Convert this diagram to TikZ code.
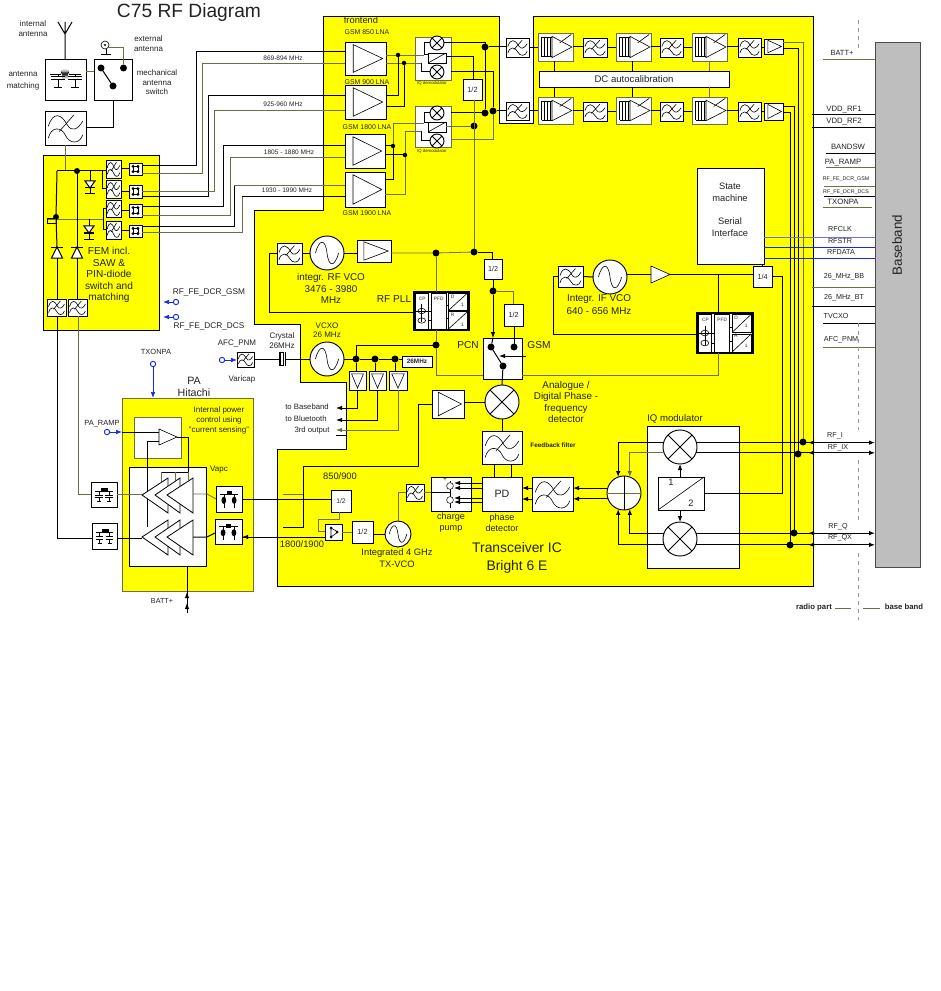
\documentclass[tikz,border=0pt]{standalone}
\usepackage{fontspec}
\setmainfont{Liberation Sans}
\usetikzlibrary{arrows.meta,calc,shapes.geometric}
\definecolor{yel}{RGB}{255,255,0}
\definecolor{bbgray}{RGB}{190,190,190}
\definecolor{oliv}{RGB}{110,110,70}
\definecolor{blu}{RGB}{20,40,235}
\definecolor{txtc}{RGB}{35,35,35}
\tikzset{
 blk/.style={draw=black,fill=white,rectangle,inner sep=0pt,outer sep=0pt,line width=.6pt},
 gblk/.style={draw=oliv,fill=white,rectangle,inner sep=0pt,outer sep=0pt,line width=.5pt},
 noblk/.style={rectangle,inner sep=0pt,outer sep=0pt},
 thk/.style={draw=black,fill=white,rectangle,inner sep=0pt,outer sep=0pt,line width=.8pt},
 bbst/.style={draw=black!70,fill=bbgray,rectangle,inner sep=0pt,outer sep=0pt,line width=.7pt},
 cirn/.style={draw=black,fill=white,circle,inner sep=0pt,outer sep=0pt,line width=.7pt},
 mydot/.style={draw=none,fill=black,circle,inner sep=0pt,outer sep=0pt},
 bluec/.style={draw=blu,fill=white,circle,inner sep=0pt,outer sep=0pt,line width=.7pt,minimum size=4pt},
 txt/.style={inner sep=0pt,outer sep=0pt,align=center,text=txtc},
 wk/.style={draw=black,line width=.75pt},
 wg/.style={draw=oliv,line width=.6pt},
 wb/.style={draw=blu,line width=.55pt},
 gl/.style={draw=black,line width=.45pt},
 ah/.style={-{Latex[length=4.5pt,width=3.4pt]}},
}
\newcommand{\nBx}[6][blk]{%
 \pgfmathsetlengthmacro{\mw}{(#5-#3)*0.75}\pgfmathsetlengthmacro{\mh}{(#6-#4)*0.75}%
 \node[#1,minimum width=\mw,minimum height=\mh] (#2) at ({(#3+#5)/2},{(#4+#6)/2}) {};}
\newcommand{\nLab}[7]{%
 \pgfmathsetlengthmacro{\mw}{(#4-#2)*0.75}\pgfmathsetlengthmacro{\mh}{(#5-#3)*0.75}%
 \node[blk,text=txtc,minimum width=\mw,minimum height=\mh,font=\fontsize{#6}{#6}\selectfont] (#1) at ({(#2+#4)/2},{(#3+#5)/2}) {#7};}
\newcommand{\nTx}[6]{\node[txt,font=\fontsize{#4}{#5}\selectfont] (#1) at (#2,#3) {#6};}
\newcommand{\nFilt}[5]{\nBx{#1}{#2}{#3}{#4}{#5}%
 \begin{scope}[shift={(#2,#3)},xscale={#4-#2},yscale={#5-#3}]
 \draw[gl] (.08,.45) .. controls (.2,.0) and (.4,.08) .. (.55,.42) .. controls (.65,.62) and (.8,.55) .. (.92,.3);
 \draw[gl] (.08,.8) .. controls (.15,.45) and (.4,.45) .. (.5,.72) .. controls (.6,.98) and (.85,.98) .. (.92,.7);
 \draw[gl] (.35,.6) -- (.7,.12);
 \end{scope}}
\newcommand{\nAmp}[5]{\nBx{#1}{#2}{#3}{#4}{#5}%
 \begin{scope}[shift={(#2,#3)},xscale={#4-#2},yscale={#5-#3}]
 \draw[gl] (.2,.08) -- (.2,.92) -- (.92,.5) -- cycle;
 \end{scope}}
\newcommand{\nBuf}[5]{\nBx{#1}{#2}{#3}{#4}{#5}%
 \begin{scope}[shift={(#2,#3)},xscale={#4-#2},yscale={#5-#3}]
 \draw[gl] (.15,.15) -- (.85,.15) -- (.5,.9) -- cycle;
 \end{scope}}
\newcommand{\nVga}[5]{\nBx[gblk]{#1}{#2}{#3}{#4}{#5}%
 \begin{scope}[shift={(#2,#3)},xscale={#4-#2},yscale={#5-#3}]
 \foreach \q in {.1,.18,.26,.34}{\draw[gl] (\q,.15) -- (\q,.85);}
 \draw[gl] (.1,.15) -- (.4,.15) (.1,.85) -- (.4,.85);
 \draw[gl] (.4,.12) -- (.4,.88) -- (.97,.5) -- cycle;
 \draw[gl] (.62,.35) -- (.95,.05);
 \end{scope}}
\newcommand{\nCir}[4]{\pgfmathsetlengthmacro{\mw}{2*#4*0.75}\node[cirn,minimum size=\mw] (#1) at (#2,#3) {};}
\newcommand{\nVco}[4]{\nCir{#1}{#2}{#3}{#4}%
 \begin{scope}[shift={(#2,#3)},scale={#4}]
 \draw[gl] (-.68,0) .. controls (-.45,-.85) and (-.1,-.85) .. (0,0) .. controls (.1,.85) and (.45,.85) .. (.68,0);
 \end{scope}}
\newcommand{\nMix}[4]{\nCir{#1}{#2}{#3}{#4}%
 \begin{scope}[shift={(#2,#3)},scale={#4}]
 \draw[gl,line width=.6pt] (-.707,-.707) -- (.707,.707) (-.707,.707) -- (.707,-.707);
 \end{scope}}
\newcommand{\nDot}[4]{\pgfmathsetlengthmacro{\mw}{#4*0.75}\node[mydot,minimum size=\mw] (#1) at (#2,#3) {};}
\newcommand{\nDiv}[5]{\nBx{#1}{#2}{#3}{#4}{#5}\draw[gl] (#1.south west) -- (#1.north east);}
\newcommand{\nBal}[5]{\nBx{#1}{#2}{#3}{#4}{#5}%
 \begin{scope}[shift={(#2,#3)},xscale={#4-#2},yscale={#5-#3}]
 \draw[gl] (.32,.28) rectangle (.68,.72);
 \fill (.32,.28) circle[radius=.13] (.68,.28) circle[radius=.13] (.32,.72) circle[radius=.13] (.68,.72) circle[radius=.13];
 \end{scope}}
\newcommand{\nMtl}[5]{\nBx{#1}{#2}{#3}{#4}{#5}%
 \begin{scope}[shift={(#2,#3)},xscale={#4-#2},yscale={#5-#3}]
 \fill (.38,.22) rectangle (.66,.36);
 \draw[gl] (.15,.36) -- (.85,.36);
 \draw[gl] (.3,.36) -- (.3,.52) (.7,.36) -- (.7,.52);
 \draw[gl] (.15,.52) -- (.45,.52) (.55,.52) -- (.85,.52) (.15,.62) -- (.45,.62) (.55,.62) -- (.85,.62);
 \draw[gl] (.3,.62) -- (.3,.78) (.7,.62) -- (.7,.78);
 \draw[gl] (.22,.78) -- (.38,.78) (.62,.78) -- (.78,.78);
 \end{scope}}
\newcommand{\nMtr}[5]{\nBx{#1}{#2}{#3}{#4}{#5}%
 \begin{scope}[shift={(#2,#3)},xscale={#4-#2},yscale={#5-#3}]
 \draw[gl] (.15,.3) -- (.85,.3);
 \fill (.42,.2) rectangle (.6,.34);
 \draw[gl] (.3,.3) -- (.3,.85) (.7,.3) -- (.7,.85);
 \fill (.3,.55) ellipse[x radius=.09,y radius=.14] (.7,.55) ellipse[x radius=.09,y radius=.14];
 \end{scope}}
\newcommand{\nPll}[5]{\nBx[thk]{#1}{#2}{#3}{#4}{#5}%
 \begin{scope}[shift={(#2,#3)},xscale={#4-#2},yscale={#5-#3}]
 \draw[gl] (.03,.03) rectangle (.26,.5) (.03,.5) rectangle (.26,.97);
 \draw[gl] (.14,.32) -- (.14,.8);
 \draw[gl] (.14,.5) circle[radius=.07] (.14,.75) circle[radius=.07];
 \fill[white] (.31,.03) rectangle (.58,.97);
 \draw[gl] (.31,.03) rectangle (.58,.97);
 \draw[gl] (.26,.5) -- (.31,.5) (.26,.75) -- (.31,.75) (.58,.35) -- (.63,.35) (.58,.7) -- (.63,.7);
 \draw[gl] (.63,.03) rectangle (.97,.48) (.63,.52) rectangle (.97,.97);
 \draw[gl] (.63,.48) -- (.97,.03) (.63,.97) -- (.97,.52);
 \end{scope}
 \node[txt,font=\fontsize{3.6}{4}\selectfont] (#1cp) at ($(#1.north west)!.15!(#1.north east)+(0,-5pt)$) {CP};
 \node[txt,font=\fontsize{3.6}{4}\selectfont] (#1pf) at ($(#1.north west)!.45!(#1.north east)+(0,-5pt)$) {PFD};
 \node[txt,font=\fontsize{3.6}{4}\selectfont] (#1dd) at ($(#1.north west)!.7!(#1.north east)+(0,-4pt)$) {D};
 \node[txt,font=\fontsize{3.6}{4}\selectfont] (#1rr) at ($(#1.north west)!.7!(#1.north east)+(0,-17pt)$) {R};
 \node[txt,font=\fontsize{3.6}{4}\selectfont] (#1d1) at ($(#1.north west)!.88!(#1.north east)+(0,-10pt)$) {1};
 \node[txt,font=\fontsize{3.6}{4}\selectfont] (#1r1) at ($(#1.north west)!.88!(#1.north east)+(0,-25pt)$) {1};}
\begin{document}
\begin{tikzpicture}[x=.75pt,y=-.75pt]
\useasboundingbox (0,0) rectangle (940,991);
\fill[white] (0,0) rectangle (940,991);
% yellow areas
\draw[fill=yel,draw=black,line width=.6pt] (323,16) -- (499,16) -- (499,123) -- (533,123) -- (533,16) -- (813,16) -- (813,586) -- (277,586) -- (277,449) -- (346,449) -- (346,382) -- (300,382) -- (300,324) -- (254,324) -- (254,210) -- (323,210) -- cycle;
\draw[fill=yel,draw=black,line width=.6pt] (43,155) rectangle (159,330);
\draw[fill=yel,draw=oliv,line width=.6pt] (122,398) rectangle (253,591);
\nBx[bbst]{bb}{875}{42}{920}{567}
\nTx{tbb}{897}{245}{10}{12}{\rotatebox{90}{Baseband}}
\nTx{title}{189}{12.5}{14.4}{18}{C75 RF Diagram}
% top left
\nBx{amatch}{45}{59}{86}{100}
\nBx{msw}{94}{59}{132}{100}
\nFilt{bigf}{45}{111}{86}{145}
\coordinate (anttop) at (65,22);
\draw[wk] (amatch.north -| anttop) -- (anttop) (65,34) -- (58,22) (65,34) -- (72,22);
\draw[gl] (50,74) -- (61,74) (69,74) -- (81,74);
\draw[gl] (61,74) -- (62,71) -- (63,77) -- (64,71) -- (65,77) -- (66,71) -- (67,77) -- (68,71) -- (69,74);
\draw[gl] (58,74) -- (58,76) (51,76) -- (65,76) (51,79) -- (65,79) (58,79) -- (58,87) (54,87) -- (62,87);
\draw[gl] (75,74) -- (75,76) (68,76) -- (82,76) (68,79) -- (82,79) (75,79) -- (75,87) (71,87) -- (79,87);
\draw[gl] (105,45) circle[radius=4];
\fill (105,45) circle[radius=1.2];
\draw[gl] (106,49) -- (106,54) (101,54) -- (111,54);
\coordinate (extant) at (107,47);
\nDot{sa}{101}{68}{7}
\nDot{sb}{123.5}{68}{7}
\nDot{sc}{113}{86}{7}
\draw[wk] (sa) -- (sc);
\draw[wg] (extant) -| (sb);
\draw[wg] (amatch.east |- 0,71) -- (msw.west |- 0,71);
\draw[wk] (msw.south) |- (bigf.east);
\draw[wg] (bigf.south) -- (bigf.south |- 0,171);
\nTx{tia}{33}{28.5}{6}{7}{internal\\antenna}
\nTx{tam}{23}{81}{6}{9}{antenna\\matching}
\nTx{tea}{148.5}{43.5}{6}{7}{external\\antenna}
\nTx{tms}{157}{82.5}{6}{7.2}{mechanical\\antenna\\switch}
% FEM
\nFilt{fa}{106}{160}{121}{178}
\nFilt{fb}{106}{180}{121}{198}
\nFilt{fc}{106}{200}{121}{217}
\nFilt{fd}{106}{221}{121}{239}
\nBal{ba}{129}{163}{142}{175}
\nBal{bb2}{129}{185}{142}{198}
\nBal{bc}{129}{204}{142}{217}
\nBal{bd}{129}{225}{142}{237}
\foreach \p/\q in {fa/ba,fb/bb2,fc/bc,fd/bd}{\draw[wk] (\q.west) -- (\q.west -| \p.east);}
\nDot{fe1}{77}{171}{6}
\nDot{fe2}{56}{217}{6}
\coordinate (fe0) at (57,171);
\draw[wk] (fe0) -- (fa.west |- fe0);
\draw[wk] (fe0) -- (fe2);
\draw[wg] (47,219) -- (103,219);
\draw[wk] (47,219) rectangle (56,224);
\coordinate (grp1) at (102,171);
\draw[wk] (grp1) |- (fb.west);
\coordinate (grp2) at (103,219);
\draw[wk] (fc.west) -| (grp2);
\draw[wk] (fd.west) -| (grp2);
% small diodes
\draw[wk] (90,171) -- (90,194) (85,194) -- (95,194);
\draw[wk,fill=white] (85,181) -- (95,181) -- (90,188) -- cycle;
\draw[wk] (85,188) -- (95,188);
\draw[wk] (89,219) -- (89,239) (84,239) -- (94,239);
\draw[wk,fill=white] (84,226) -- (94,226) -- (89,233) -- cycle;
\draw[wk] (84,233) -- (94,233);
% big diodes
\nFilt{ff}{47}{299}{66}{316}
\nFilt{fg}{68}{299}{87}{316}
\draw[wk] (fe2) -- (57,247);
\draw[wk] (fe1) -- (77,247);
\draw[wk] (57,258) -- (57,299);
\draw[wk] (77,258) -- (77,299);
\draw[wk,fill=white] (51.5,258) -- (62.5,258) -- (57,247) -- cycle;
\draw[wk] (51,247) -- (63,247);
\draw[wk,fill=white] (71.5,258) -- (82.5,258) -- (77,247) -- cycle;
\draw[wk] (71,247) -- (83,247);
\nTx{tfem}{109}{275}{7.6}{8.6}{FEM incl.\\SAW \&\\PIN-diode\\switch and\\matching}
% DCR
\nTx{tdg}{209}{292}{6.2}{7}{RF\_FE\_DCR\_GSM}
\nTx{tdd}{209}{326}{6.2}{7}{RF\_FE\_DCR\_DCS}
\node[bluec] (cdg) at (176,302) {};
\node[bluec] (cdd) at (176,317) {};
\coordinate (adg) at (163,302);
\coordinate (add) at (163,317);
\draw[wb,ah] (cdg) -- (adg);
\draw[wb,ah] (cdd) -- (add);
% LNAs
\nTx{tfr}{361}{20}{7}{8}{frontend}
\nAmp{la}{345}{42}{386}{75}
\nAmp{lb}{345}{85}{386}{119}
\nAmp{lc}{345}{134}{385}{168}
\nAmp{ld}{345}{172}{385}{207}
\nTx{tla}{367}{32}{5.2}{6}{GSM 850 LNA}
\nTx{tlb}{367}{82}{5.2}{6}{GSM 900 LNA}
\nTx{tlc}{367}{127}{5.2}{6}{GSM 1800 LNA}
\nTx{tld}{367}{213}{5.2}{6}{GSM 1900 LNA}
\draw[wk] (ba.east |- 0,166) -| (196,52) -- (la.west |- 0,52);
\draw[wg] (ba.east |- 0,173) -| (202,63) -- (la.west |- 0,63);
\draw[wk] (bb2.east |- 0,197) -| (208,96) -- (lb.west |- 0,96);
\draw[wg] (bb2.east |- 0,191) -| (214,110) -- (lb.west |- 0,110);
\draw[wk] (bc.east |- 0,207) -| (223,146) -- (lc.west |- 0,146);
\draw[wg] (bc.east |- 0,215) -| (230,157) -- (lc.west |- 0,157);
\draw[wk] (bd.east |- 0,227) -| (234,185);
\draw[wg] (234,185) -- (ld.west |- 0,185);
\draw[wg] (bd.east |- 0,232) -| (242,197);
\draw[wk] (242,197) -- (ld.west |- 0,197);
\nTx{tm1}{283}{58}{4.9}{5}{869-894 MHz}
\nTx{tm2}{283}{104}{4.9}{5}{925-960 MHz}
\nTx{tm3}{289}{152}{4.9}{5}{1805 - 1880 MHz}
\nTx{tm4}{287}{190}{4.9}{5}{1930 - 1990 MHz}
% demodulators
\nBx[gblk]{dm1}{415}{37}{451}{80}
\nBx[gblk]{dm2}{415}{106}{451}{147}
\nTx{tdm1}{432}{83}{3.2}{4}{IQ demodulator}
\nTx{tdm2}{432}{151}{3.2}{4}{IQ demodulator}
\nMix{mxa}{437}{43}{7}
\nMix{mxb}{437}{72}{7}
\nMix{mxc}{437}{113}{7}
\nMix{mxd}{437}{141}{7}
\nDiv{dva}{428}{53}{446}{63}
\nDiv{dvb}{428}{122}{446}{132}
\nDot{n1}{398}{55}{4.5}
\nDot{n2}{404}{63}{4.5}
\nDot{n3}{393}{146}{4.5}
\nDot{n4}{405}{155}{4.5}
\draw[wg] (la.east |- n1) -- (n1) -- (424,55);
\draw[wg] (la.east |- n2) -- (n2) -- (421,63);
\draw[wk] (lb.east |- 0,96) -| (n1);
\draw[wk] (lb.east |- 0,107) -| (n2);
\draw[wk] (mxa.west) -| (424,55);
\draw[wk] (mxb.west) -| (421,63);
\draw[wk] (424,55) -- (dva.west |- 0,55);
\draw[wk] (lc.east |- n3) -- (n3);
\draw[wk] (lc.east |- n4) -- (n4);
\draw[wk] (ld.east |- 0,180) -| (n3);
\draw[wg] (ld.east |- 0,194) -| (n4);
\draw[wg] (n3) |- (424,123);
\draw[wg] (n4) |- (421,131);
\draw[wk] (mxc.west) -| (424,123);
\draw[wk] (mxd.west) -| (421,131);
\draw[wk] (424,123) -- (dvb.west |- 0,123);
% right of demod
\nFilt{ft1}{506}{38}{529}{57}
\nFilt{ft2}{506}{102}{529}{120}
\nDot{p1}{485}{47}{7}
\nDot{p2}{485}{113}{7}
\nDot{p3}{493}{111}{7}
\nDot{p4}{474}{126}{7}
\nLab{h1}{463}{79}{482}{100}{5.6}{1/2}
\draw[wk] (mxa.east |- 0,43) -| (p1);
\draw[wk] (p1) -- (ft1.west |- p1);
\draw[wk] (p1) -- (p2);
\draw[wk] (dm1.east |- 0,72) -| (p3);
\draw[wk] (dm2.east |- p2) -- (p2);
\draw[wk] (p3) -- (ft2.west |- p3);
\draw[wg] (dm2.east |- 0,139) -| (p3);
\draw[wk] (dva.east |- 0,57) -| (h1.north -| 473,0);
\draw[wg] (dvb.east |- p4) -- (p4);
% chain
\nVga{vg1}{538}{33}{573}{61}
\nVga{vh1}{538}{97}{573}{124}
\nFilt{fa1}{583}{38}{607}{57}
\nFilt{fa2}{583}{102}{607}{121}
\nVga{vg2}{616}{33}{651}{61}
\nVga{vh2}{616}{97}{651}{124}
\nFilt{fb1}{660}{38}{683}{57}
\nFilt{fb2}{660}{102}{683}{121}
\nVga{vg3}{692}{33}{727}{61}
\nVga{vh3}{692}{97}{727}{124}
\nFilt{fc1}{738}{38}{761}{57}
\nFilt{fc2}{738}{102}{761}{121}
\nAmp{am1}{764}{39}{783}{54}
\nAmp{am2}{764}{103}{783}{120}
\foreach \a/\b in {ft1/vg1,vg1/fa1,fa1/vg2,vg2/fb1,fb1/vg3,vg3/fc1,fc1/am1,ft2/vh1,vh1/fa2,fa2/vh2,vh2/fb2,fb2/vh3,vh3/fc2,fc2/am2}{\draw[wk] (\a.east) -- (\a.east -| \b.west);}
\nLab{dc}{539}{71}{729}{87}{7.2}{DC autocalibration}
\draw[wk] (vg1.south -| 554,0) -- (dc.north -| 554,0);
\draw[wk] (dc.south -| 554,0) -- (vh1.north -| 554,0);
\draw[wk] (vg2.south -| 632,0) -- (dc.north -| 632,0);
\draw[wk] (dc.south -| 632,0) -- (vh2.north -| 632,0);
\draw[wg] (vg3.south -| 709,0) -- (dc.north -| 709,0);
\draw[wg] (dc.south -| 709,0) -- (vh3.north -| 709,0);
% baseband signals
\nDot{q1}{803}{442}{7}
\nDot{q2}{798}{454}{7}
\nDot{q3}{794}{533}{7}
\nDot{q4}{790}{545}{7}
\draw[wg] (am1.east |- 0,42) -| (q1);
\draw[wk] (am1.east |- 0,49) -| (q2);
\draw[wk] (am2.east |- 0,107) -| (q3);
\draw[wk] (am2.east |- 0,113) -| (q4);
\draw[wg] (823,59) -- (bb.west |- 0,59);
\draw[wk] (812,115) -- (bb.west |- 0,115);
\draw[wk] (812,128) -- (bb.west |- 0,128);
\draw[wk] (826,154) -- (bb.west |- 0,154);
\draw[wg] (826,167) -- (bb.west |- 0,167);
\draw[wg] (824,186) -- (bb.west |- 0,186);
\draw[wk] (824,197) -- (bb.west |- 0,197);
\draw[wg] (823,207) -- (872,207);
\draw[wg] (812,287) -- (bb.west |- 0,287);
\draw[wk] (812,306) -- (bb.west |- 0,306);
\draw[wk] (823,323) -- (bb.west |- 0,323);
\draw[wg] (823,347) -- (bb.west |- 0,347);
\nTx{s1}{842}{53}{5.6}{6}{BATT+}
\nTx{s2}{844}{110}{5.8}{6}{VDD\_RF1}
\nTx{s3}{844}{122}{5.8}{6}{VDD\_RF2}
\nTx{s4}{848}{147}{5.8}{6}{BANDSW}
\nTx{s5}{843}{163}{5.8}{6}{PA\_RAMP}
\nTx{s6}{846}{179}{4}{5}{RF\_FE\_DCR\_GSM}
\nTx{s7}{846}{192}{4}{5}{RF\_FE\_DCR\_DCS}
\nTx{s8}{843}{202}{5.8}{6}{TXONPA}
\nTx{s9}{840}{229}{5.4}{6}{RFCLK}
\nTx{s10}{840}{241}{5.4}{6}{RFSTR}
\nTx{s11}{841}{252}{5.4}{6}{RFDATA}
\nTx{s12}{844}{277}{5.4}{6}{26\_MHz\_BB}
\nTx{s13}{844}{298}{5.4}{6}{26\_MHz\_BT}
\nTx{s14}{836}{316}{5.4}{6}{TVCXO}
\nTx{s15}{841}{340}{5.4}{6}{AFC\_PNM}
\nTx{s16}{835}{436}{5.4}{6}{RF\_I}
\nTx{s17}{838}{448}{5.4}{6}{RF\_IX}
\nTx{s18}{838}{527}{5.4}{6}{RF\_Q}
\nTx{s19}{840}{538}{5.4}{6}{RF\_QX}
\draw[draw=black!40,dashed,line width=.7pt] (858,20) -- (858,48) (858,323) -- (858,430) (858,460) -- (858,523) (858,553) -- (858,620);
\nTx{trp}{814}{607}{5.8}{6}{\bfseries radio part}
\nTx{tbp}{904}{607}{5.8}{6}{\bfseries base band}
\draw[wg] (835,608) -- (851,608) (863,608) -- (880,608);
% state machine
\nBx{sm}{697}{168}{764}{264}
\nTx{sm1}{730}{192.5}{7}{8.6}{State\\machine}
\nTx{sm2}{730}{227}{7}{8.8}{Serial\\Interface}
\draw[draw=blu!65,line width=.55pt] (sm.east |- 0,237) -- (bb.west |- 0,237);
\draw[wb] (sm.east |- 0,247) -- (bb.west |- 0,247);
\draw[wb] (sm.east |- 0,258) -- (bb.west |- 0,258);
% IF section
\nFilt{fif}{558}{266}{583}{287}
\nVco{vif}{610}{277}{17}
\nBx[noblk]{ifa}{651}{266}{670}{283}
\draw[gl,fill=white] (651,266) -- (651,283) -- (670,274.5) -- cycle;
\nLab{bq}{753}{266}{772}{287}{5.4}{1/4}
\nPll{pif}{697}{313}{753}{353}
\draw[wk] (fif.east) -- (vif.west);
\draw[wk] (vif.east |- ifa.west) -- (ifa.west);
\draw[wk] (ifa.east) -- (bq.west |- ifa.east);
\draw[wk] (718,274.5) -- (pif.north -| 718,0);
\draw[wk] (fif.west) -| (553,334) -- (pif.west |- 0,334);
\draw[wk] (sm.south -| 762,0) -- (bq.north -| 762,0);
\nTx{tif}{599}{304.5}{7.4}{9.6}{Integr. IF VCO\\640 - 656 MHz}
% IQ modulator
\nBx{iq}{647}{426}{739}{568}
\nTx{tiq}{675}{419}{7.2}{8}{IQ modulator}
\nMix{mi}{680}{447}{17}
\nMix{mq}{680}{539}{17}
\nCir{sum}{624}{493}{17}
\draw[wg] (607,493) -- (641,493);
\draw[gl] (624,476) -- (624,510);
\nDiv{dvm}{658}{477}{704}{510}
\nTx{d1}{671}{482}{7}{8}{1}
\nTx{d2}{691}{503}{7}{8}{2}
\draw[wk,ah] (dvm.north -| mi.south) -- (mi.south);
\draw[wk,ah] (dvm.south -| mq.north) -- (mq.north);
\draw[wk] (bq.east) -| (782,493) -- (dvm.east |- 0,493);
\draw[wk,ah] (mi.15) -- (mi.15 -| bb.west);
\draw[wk,ah] (mi.-20) -- (mi.-20 -| bb.west);
\draw[wk,ah] (mq.20) -- (mq.20 -| bb.west);
\draw[wk,ah] (mq.-20) -- (mq.-20 -| bb.west);
\foreach \yy in {442.6,452.8,533.2,544.8}{\draw[wk,ah] (813,\yy) -- (808,\yy);}
\draw[wk,ah] (mi.165) -| (sum.110);
\draw[wg,ah] (mi.200) -| (sum.70);
\draw[wk,ah] (mq.160) -| (sum.-70);
\draw[wk,ah] (mq.200) -| (sum.-110);
% TX chain
\nFilt{fs}{532}{477}{573}{511}
\nLab{pd}{482}{477}{522}{511}{8}{PD}
\nBx{cp}{431}{477}{471}{511}
\nFilt{ffb}{482}{431}{522}{464}
\nMix{mph}{502}{402}{17}
\nAmp{apf}{432}{390}{464}{418}
\draw[wk,ah] (sum.163) -- (sum.163 -| fs.east);
\draw[wk,ah] (sum.200) -- (sum.200 -| fs.east);
\draw[wk,ah] (fs.west |- 0,488) -- (pd.east |- 0,488);
\draw[wk,ah] (fs.west |- 0,499) -- (pd.east |- 0,499);
\draw[wk] (pd.north -| 494,0) -- (ffb.south -| 494,0);
\draw[wk] (pd.north -| 511,0) -- (ffb.south -| 511,0);
\draw[wk] (ffb.north) -- (mph.south);
\draw[wk] (mph.west) -- (mph.west -| apf.east);
\draw[wk] (450,481) -- (450,508);
\draw[wk] (cp.west |- 0,492) -- (450,492);
\fill[white,draw=black,line width=.4pt] (450,486) circle[radius=3.4] (450,500) circle[radius=3.4];
\foreach \yy in {483,488,498,502}{\draw[wk,ah] (pd.west |- 0,\yy) -- (454,\yy);}
\nTx{tplus}{445}{480}{5}{5}{+}
\nTx{tcp}{451}{522.5}{6.8}{8.4}{charge\\pump}
\nTx{tpd}{502}{522.5}{6.8}{8.4}{phase\\detector}
\nTx{tfb}{553}{445}{4.8}{5}{\bfseries Feedback filter}
\nTx{tan}{566}{402}{7.4}{8.6}{Analogue /\\Digital Phase -\\frequency\\detector}
\nTx{ttr}{517}{558}{10.4}{13.4}{Transceiver IC\\Bright 6 E}
% TX path
\nVco{vtx}{398}{534}{13}
\nFilt{ftx}{406}{484}{424}{501}
\nLab{ha}{352}{521}{373}{543}{5.6}{1/2}
\nLab{hb}{331}{490}{351}{512}{5}{1/2}
\nBx{swt}{325}{524}{342}{540}
\draw[gl] (331,528) -- (331,537) (331,528) -- (338,532) (331,537) -- (338,532);
\fill (331,528) circle[radius=1.5] (331,537) circle[radius=1.5] (337,532) circle[radius=1.5];
\draw[wg] (vtx.north) |- (ftx.west);
\draw[wg] (ftx.east) -- (cp.west |- ftx.east);
\draw[wk] (vtx.west) -- (ha.east |- vtx.west);
\draw[wg] (ha.west |- swt.east) -- (swt.east);
\draw[wg] (hb.south -| 339,0) -- (339,519) -| (318,531) -- (swt.west |- 0,531);
\draw[wk] (apf.west) -| (418,466) -| (303,527) -- (283,527);
\draw[wg] (283,494) -- (303,494);
\nTx{t85}{340}{476}{7}{8}{850/900}
\nTx{t18}{302}{544}{7}{8}{1800/1900}
\nTx{tvt}{397}{558}{7}{9}{Integrated 4 GHz\\TX-VCO}
% PCN
\nBx{pcn}{483}{338}{522}{379}
\nDot{pa}{491}{347}{7}
\nDot{pb}{514}{347}{7}
\nDot{pc}{503}{366}{7}
\draw[wk] (pa) -- (pc);
\draw[wk] (pc) -- (mph.north);
\coordinate (pctl) at (526,356);
\draw[wk,ah] (pctl) -- (499,356);
\nTx{tpcn}{468}{345}{7.6}{8}{PCN}
\nTx{tgsm}{539}{345}{7.6}{8}{GSM}
\nLab{hc}{484}{259}{502}{279}{5.4}{1/2}
\nLab{hd}{504}{304}{523}{326}{5.4}{1/2}
\nDot{r1}{493}{291}{7}
\nDot{r2}{474}{252}{7}
\nDot{r3}{436}{253}{7}
\draw[wg] (h1.south -| 474,0) -- (r2);
\draw[wk] (r2) -| (hc.north -| 492,0);
\draw[wk] (hc.south -| 493,0) -- (r1);
\draw[wk,ah] (r1) -- (pcn.north -| r1);
\draw[wk] (pcn.north -| r1) -- (pa);
\draw[wg] (r1) -| (hd.north -| 513,0);
\draw[wk] (hd.south -| 514,0) -- (pb);
% RF VCO
\nFilt{frf}{277}{243}{302}{264}
\nVco{vrf}{327}{253}{17}
\nAmp{arf}{357}{240}{391}{262}
\nPll{prf}{414}{292}{469}{330}
\draw[wk] (frf.east |- vrf.west) -- (vrf.west);
\draw[wk] (vrf.east) -- (arf.west |- vrf.east);
\draw[wg] (arf.east |- r3) -- (r3) -- (r2);
\draw[wg] (r3) -- (prf.north -| r3);
\draw[wk] (frf.west) -| (269,312) -- (prf.west |- 0,312);
\nTx{trf}{331}{288.5}{7.4}{8.6}{integr. RF VCO\\3476 - 3980\\MHz}
\nTx{trp2}{394}{299}{7.6}{8}{RF PLL}
% VCXO
\nVco{vcx}{327}{359}{17}
\nTx{tvx}{327}{330.5}{6}{6.8}{VCXO\\26 MHz}
\nTx{tcr}{282}{341}{6}{7.4}{Crystal\\26MHz}
\nDot{u1}{356}{359}{7}
\nDot{u2}{375}{359}{7}
\nDot{u3}{395}{359}{7}
\nDot{u4}{436}{345}{7}
\nLab{mhz}{402}{356}{432}{367}{4.8}{\bfseries 26MHz}
\draw[wk] (vcx.east) -- (u1) -- (u2) -- (u3) -- (mhz.west |- u3);
\draw[wk] (u1) |- (u4);
\draw[wg] (prf.south -| u4) -- (u4) |- (pcn.west |- 0,375);
\draw[wg] (pcn.east |- 0,375) -| (pif.south -| 718,0);
\nBuf{ub}{349}{371}{366}{390}
\nBuf{uc}{369}{371}{386}{390}
\nBuf{ud}{389}{371}{407}{390}
\draw[wk] (u1) -- (ub.north -| u1);
\draw[wk] (u2) -- (uc.north -| u2);
\draw[wk] (u3) -- (ud.north -| u3);
\coordinate (oa) at (336,408);
\coordinate (ob) at (336,420);
\coordinate (oc) at (336,430);
\draw[wk,ah] (ub.south) |- (oa);
\draw[wk,ah] (uc.south) |- (ob);
\draw[wg,ah] (ud.south) |- (oc);
\draw[wk] (336,435) -- (346,435);
\nTx{to1}{307}{407}{5.8}{6}{to Baseband}
\nTx{to2}{306}{419}{5.8}{6}{to Bluetooth}
\nTx{to3}{312}{430}{5.8}{6}{3rd output}
% crystal + varicap
\nFilt{fvr}{237}{352}{254}{367}
\nTx{tvr}{242}{379}{6}{6}{Varicap}
\nTx{taf}{237}{344}{6}{6}{AFC\_PNM}
\node[bluec] (caf) at (222,360) {};
\draw[wb,ah] (caf) -- (fvr.west |- caf);
\coordinate (xl) at (279,359);
\coordinate (xr) at (285,359);
\draw[wk] (fvr.east |- xl) -- (xl) (xr) -- (vcx.west);
\draw[wk] (279,352) -- (279,366) (285,352) -- (285,366);
\draw[gl] (280.5,352.5) rectangle (283.5,365.5);
% PA
\nTx{ttx}{156}{352}{5.6}{6}{TXONPA}
\node[bluec] (ctx) at (153,364) {};
\coordinate (patop) at (153,398);
\draw[wb,ah] (ctx) -- (patop);
\nTx{tpa}{194}{387}{8}{9}{PA\\Hitachi}
\nTx{tip}{219}{420.5}{6}{7.2}{Internal power\\control using\\"current sensing"}
\nTx{tpr}{102}{424}{5.6}{6}{PA\_RAMP}
\node[bluec] (cpr) at (107,432) {};
\coordinate (paleft) at (122,432);
\draw[wb,ah] (cpr) -- (paleft);
\nBx[gblk]{pwb}{134}{417}{181}{458}
\nBx[blk]{pac}{129}{467}{206}{566}
\draw[wk] (paleft) -- (159,432);
\draw[wk] (159,441) -| (147.5,527);
\draw[wk] (177,437) -| (188,472) -- (161,472);
\draw[wg] (161,472) -- (161,482) (175,472) -- (175,482);
\draw[wg] (188,472) -- (188,480);
\draw[gl,fill=white] (159,429) -- (159,445) -- (177,437) -- cycle;
\foreach \yt/\ya/\yb in {478/495/513,520/537/555}{
 \foreach \xa/\xb in {142/168,155/180,167/193}{
  \draw[gl,line width=.6pt,fill=white] (\xb,\yt) -- (\xa,\ya) -- (\xb,\yb) -- cycle;}}
\nMtl{ma}{91}{482}{117}{507}
\nMtl{mb}{92}{523}{117}{549}
\nMtr{mc}{216}{486}{242}{512}
\nMtr{md}{215}{519}{242}{544}
\draw[wg] (ma.east |- 0,494) -- (142,494);
\draw[wk] (mb.east |- 0,538) -- (142,538);
\draw[wg] (193,494) -- (207,494) -- (mc.west |- 0,499);
\draw[wk] (193,537) -- (207,537) -- (md.west |- 0,533);
\draw[wk] (mc.east |- 0,499) -- (hb.west |- 0,499);
\draw[wk] (swt.west |- 0,537) -- (md.east |- 0,537);
\draw[wk,ah] (260,537) -- (md.east |- 0,537);
\draw[wg] (fg.south -| 78,0) |- (ma.west |- 0,494);
\draw[wk] (ff.south -| 57,0) |- (mb.west |- 0,538);
\nTx{tvp}{219}{470}{6}{6}{Vapc}
\nTx{tbt}{162}{601}{5.4}{6}{BATT+}
\coordinate (battb) at (187,613);
\coordinate (batt2) at (187,603);
\coordinate (batt1) at (187,592);
\draw[wk] (pac.south -| battb) -- (battb);
\draw[wk,ah] (battb) -- (batt2);
\draw[wk,ah] (batt2) -- (batt1);
\end{tikzpicture}
\end{document}
